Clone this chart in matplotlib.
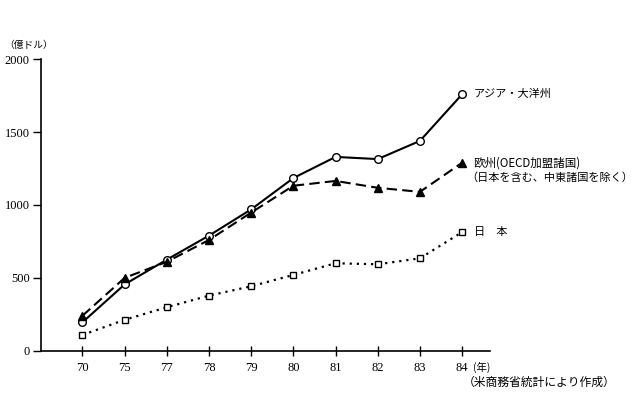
import matplotlib
matplotlib.use("Agg")
import matplotlib.pyplot as plt

years = ["70", "75", "77", "78", "79", "80", "81", "82", "83", "84"]
asia = [195, 455, 625, 790, 970, 1185, 1330, 1315, 1440, 1760]
europe = [240, 500, 610, 760, 948, 1132, 1165, 1118, 1090, 1290]
japan = [108, 212, 298, 378, 442, 520, 600, 593, 634, 814]

lbl_asia = "アジア・大洋州"
lbl_eu1 = "欧州(OECD加盟諸国)"
lbl_eu2 = "（日本を含む、中東諸国を除く）"
lbl_jp = "日　本"

JP = ["Noto Sans CJK JP", "DejaVu Sans"]
NUM = ["Liberation Serif", "DejaVu Serif"]

fig = plt.figure(figsize=(6.4, 3.95), dpi=100)
ax = fig.add_axes([0.0636, 0.1122, 0.7020, 0.7377])
x = list(range(len(years)))

ax.plot(x, asia, color="black", lw=1.5, ls="-", marker="o", ms=5.5,
        mfc="white", mec="black", mew=1.0, zorder=3)
ax.plot(x, europe, color="black", lw=1.5, ls=(0, (5, 2.5)), marker="^", ms=5.5,
        mfc="black", mec="black", zorder=3)
ax.plot(x, japan, color="black", lw=1.6, ls=(0, (1, 2.2)), marker="s", ms=5,
        mfc="white", mec="black", mew=1.0, zorder=3)

ax.set_xlim(-0.99, 9.66)
ax.set_ylim(0, 2000)
ax.set_xticks(x)
ax.set_xticklabels(years, fontfamily=NUM, fontsize=9)
ax.set_yticks([0, 500, 1000, 1500, 2000])
ax.set_yticklabels(["0", "500", "1000", "1500", "2000"], fontfamily=NUM, fontsize=9)
ax.tick_params(axis="y", direction="out", length=6, width=1.0, pad=2)
ax.tick_params(axis="x", direction="inout", length=7, width=1.0, pad=5)
for s in ["top", "right"]:
    ax.spines[s].set_visible(False)
for s in ["left", "bottom"]:
    ax.spines[s].set_linewidth(1.2)

fs = 8
ax.text(9.27, asia[-1], lbl_asia, fontfamily=JP, fontsize=fs, va="center", ha="left")
ax.text(9.27, europe[-1], lbl_eu1, fontfamily=JP, fontsize=8.3, va="center", ha="left")
ax.text(9.1, europe[-1] - 105, lbl_eu2, fontfamily=JP, fontsize=fs, va="center", ha="left")
ax.text(9.27, japan[-1], lbl_jp, fontfamily=JP, fontsize=fs, va="center", ha="left")

fig.text(4 / 640, 1 - 45 / 395, "（億ドル）", fontfamily=JP, fontsize=7, va="center", ha="left")
fig.text(473 / 640, 1 - 367 / 395, "(年)", fontfamily=JP, fontsize=7.5, va="center", ha="left")
fig.text(463 / 640, 1 - 382 / 395, "（米商務省統計により作成）", fontfamily=JP, fontsize=8.5,
         va="center", ha="left")

fig.savefig("out.png", dpi=100)
